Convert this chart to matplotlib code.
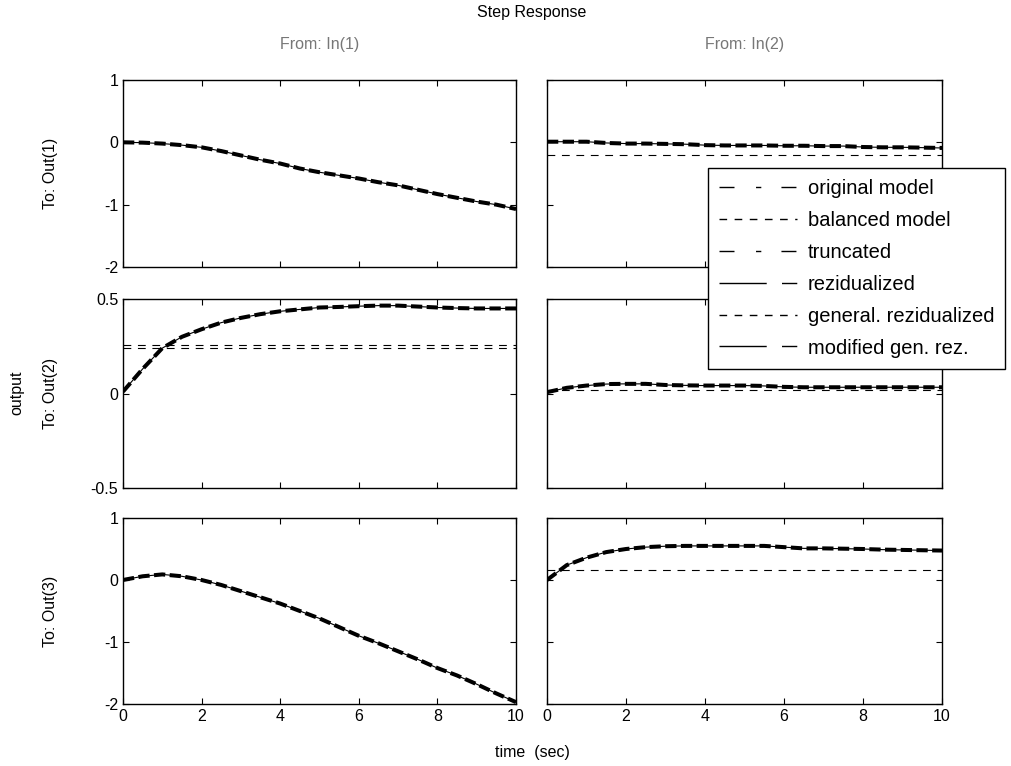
import matplotlib
matplotlib.use('Agg')
import matplotlib.pyplot as plt
from matplotlib.lines import Line2D

plt.rcParams['font.family'] = ['Liberation Sans', 'DejaVu Sans']

# time grid (sec)
t = [0.0, 0.5, 1.0, 1.5, 2.0, 2.5, 3.0, 3.5, 4.0, 4.5, 5.0,
     5.5, 6.0, 6.5, 7.0, 7.5, 8.0, 8.5, 9.0, 9.5, 10.0]

# step responses (original model, the thick dashed curves)
out1_in1 = [0.0, -0.005, -0.02, -0.045, -0.08, -0.14, -0.21, -0.28, -0.34, -0.42, -0.48,
            -0.53, -0.58, -0.64, -0.69, -0.76, -0.83, -0.89, -0.95, -1.0, -1.07]
out1_in2 = [0.01, 0.01, 0.01, -0.01, -0.02, -0.02, -0.025, -0.03, -0.045, -0.05, -0.05,
            -0.05, -0.055, -0.055, -0.06, -0.06, -0.075, -0.08, -0.08, -0.085, -0.09]
out2_in1 = [0.01, 0.13, 0.24, 0.30, 0.34, 0.375, 0.40, 0.42, 0.435, 0.445, 0.455,
            0.458, 0.462, 0.465, 0.465, 0.46, 0.455, 0.452, 0.45, 0.45, 0.45]
out2_in2 = [0.007, 0.03, 0.042, 0.05, 0.051, 0.051, 0.045, 0.043, 0.042, 0.042, 0.042,
            0.04, 0.035, 0.033, 0.033, 0.033, 0.033, 0.033, 0.033, 0.033, 0.033]
out3_in1 = [0.0, 0.06, 0.09, 0.06, 0.0, -0.08, -0.18, -0.28, -0.38, -0.5, -0.62,
            -0.76, -0.9, -1.02, -1.15, -1.28, -1.42, -1.54, -1.68, -1.83, -1.97]
out3_in2 = [0.0, 0.24, 0.36, 0.45, 0.50, 0.53, 0.545, 0.55, 0.55, 0.55, 0.55,
            0.55, 0.53, 0.51, 0.51, 0.505, 0.50, 0.49, 0.485, 0.48, 0.475]

# static (generalized residualization) levels, thin dashed lines
levels_out1_in2 = [-0.2]
levels_out2_in1 = [0.254, 0.242]
levels_out2_in2 = [0.021]
levels_out3_in2 = [0.16]

responses = [[out1_in1, out1_in2], [out2_in1, out2_in2], [out3_in1, out3_in2]]
levels = [[[], levels_out1_in2], [levels_out2_in1, levels_out2_in2], [[], levels_out3_in2]]
ylims = [(-2, 1), (-0.5, 0.5), (-2, 1)]
yticks = [[-2, -1, 0, 1], [-0.5, 0, 0.5], [-2, -1, 0, 1]]
yticklabels = [['-2', '-1', '0', '1'], ['-0.5', '0', '0.5'], ['-2', '-1', '0', '1']]
xticks = [0, 2, 4, 6, 8, 10]
row_names = ['To: Out(1)', 'To: Out(2)', 'To: Out(3)']
col_names = ['From: In(1)', 'From: In(2)']
legend_names = ['original model', 'balanced model', 'truncated',
                'rezidualized', 'general. rezidualized', 'modified gen. rez.']

W, H = 1011, 766
fig = plt.figure(figsize=(W / 100, H / 100), dpi=100)

col_x = [(123, 393), (547, 395)]
row_y = [(80, 187), (299, 189), (518, 186)]

fs = 11.5
for i in range(3):
    for j in range(2):
        x0, w = col_x[j]
        y0, h = row_y[i]
        ax = fig.add_axes([x0 / W, 1 - (y0 + h) / H, w / W, h / H])
        y = responses[i][j]
        ax.plot(t, y, color='black', lw=0.8)
        for lv in levels[i][j]:
            ax.plot([t[0], t[-1]], [lv, lv], color='black', lw=0.8, dashes=(7, 6))
        ax.plot(t, y, color='black', lw=2.9, dashes=(2.8, 1.1))
        ax.set_xlim(0, 10)
        ax.set_ylim(*ylims[i])
        ax.set_xticks(xticks)
        ax.set_yticks(yticks[i])
        ax.tick_params(direction='in', top=True, right=True, length=4,
                       labelsize=fs, width=0.8)
        if i == 2:
            ax.set_xticklabels([str(v) for v in xticks])
        else:
            ax.set_xticklabels([])
        if j == 0:
            ax.set_yticklabels(yticklabels[i])
        else:
            ax.set_yticklabels([])
        for s in ax.spines.values():
            s.set_linewidth(1.0)

# row / column labels
for i in range(3):
    y0, h = row_y[i]
    fig.text(50 / W, 1 - (y0 + h / 2) / H, row_names[i], rotation=90,
             ha='center', va='center', fontsize=fs)
fig.text(17 / W, 1 - 393 / H, 'output', rotation=90, ha='center', va='center', fontsize=fs)
for j in range(2):
    x0, w = col_x[j]
    fig.text((x0 + w / 2) / W, 1 - 44 / H, col_names[j], ha='center', va='center',
             fontsize=fs, color='#777777')
fig.text(532 / W, 1 - 12 / H, 'Step Response', ha='center', va='center', fontsize=fs)
fig.text(532 / W, 1 - 752 / H, 'time  (sec)', ha='center', va='center', fontsize=fs)

# legend with matlab-like sample lines
long_short = (0, (10.8, 15.5, 3.8, 14.5, 10.8, 60))
fine = (0, (5.5, 5.4))
solid_short = (0, (34, 11, 11, 60))
styles = [long_short, fine, long_short, solid_short, fine, solid_short]
handles = [Line2D([0], [0], color='black', lw=1.0, linestyle=s) for s in styles]
lfs = 14.5
leg = fig.legend(handles, legend_names, loc='upper left',
                 bbox_to_anchor=(708 / W, 1 - 168 / H), fontsize=lfs,
                 frameon=True, fancybox=False, edgecolor='black',
                 handlelength=3.85, handletextpad=0.55, labelspacing=0.64,
                 borderpad=0.55, borderaxespad=0)
leg.get_frame().set_linewidth(1.0)
leg.get_frame().set_alpha(1)

fig.savefig('out.png', dpi=100)
